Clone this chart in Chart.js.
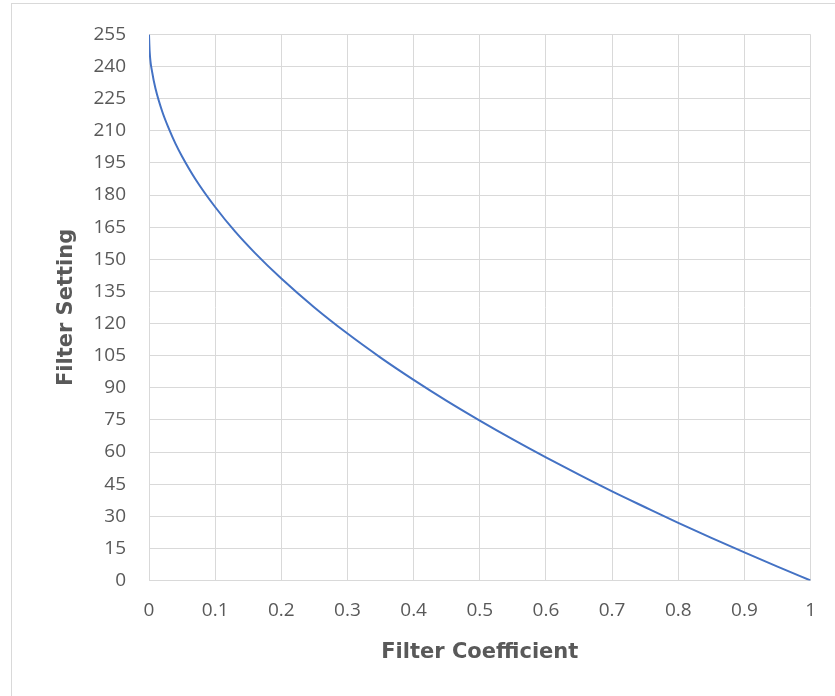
<!DOCTYPE html>
<html>
<head>
<meta charset="utf-8">
<script src="https://cdn.jsdelivr.net/npm/chart.js@4.4.1/dist/chart.umd.min.js"></script>
<style>
  html, body { margin: 0; padding: 0; background: #ffffff; overflow: hidden; }
  #wrap { position: relative; width: 835px; height: 696px; }
  #frame { position: absolute; left: 11px; top: 3px; width: 840px; height: 710px; border: 1px solid #d9d9d9; box-sizing: border-box; pointer-events: none; }
  canvas { position: absolute; left: 0; top: 0; }
</style>
</head>
<body>
<div id="wrap">
  <canvas id="c" width="835" height="696"></canvas>
  <div id="frame"></div>
</div>
<script>
// Values
const coefficient = [0, 0.001, 0.005, 0.01, 0.02, 0.03, 0.04, 0.05, 0.07, 0.1, 0.13, 0.16, 0.2, 0.25, 0.3, 0.35, 0.4, 0.45, 0.5, 0.55, 0.6, 0.65, 0.7, 0.75, 0.8, 0.85, 0.9, 0.95, 1];
const setting = [255, 247, 237, 229.5, 219, 211, 204, 198, 187.5, 174.4, 163, 153, 141, 127.5, 115.3, 104.1, 93.7, 83.9, 74.7, 65.9, 57.5, 49.4, 41.6, 34.2, 26.9, 19.9, 13.1, 6.5, 0];
const xTickLabels = ['0', '0.1', '0.2', '0.3', '0.4', '0.5', '0.6', '0.7', '0.8', '0.9', '1'];
const yStep = 15;
const yMax = 255;
const xTitle = 'Filter Coefficient';
const yTitle = 'Filter Setting';

const points = coefficient.map((x, i) => ({ x: x, y: setting[i] }));
const tickFont = '"Open Sans", "Noto Sans", sans-serif';
const titleFont = '"DejaVu Sans", "Open Sans", sans-serif';
const textColor = '#595959';
const gridColor = '#d9d9d9';

new Chart(document.getElementById('c'), {
  type: 'scatter',
  data: {
    datasets: [{
      data: points,
      showLine: true,
      borderColor: '#4472c4',
      borderWidth: 2,
      pointRadius: 0,
      pointHoverRadius: 0,
      cubicInterpolationMode: 'monotone',
      fill: false
    }]
  },
  options: {
    responsive: false,
    animation: false,
    devicePixelRatio: 1,
    events: [],
    layout: { padding: { left: 0, right: 23, top: 32, bottom: 0 } },
    plugins: { legend: { display: false }, tooltip: { enabled: false } },
    scales: {
      x: {
        type: 'linear',
        min: 0,
        max: 1,
        afterFit: (s) => { s.height = 696 - 580.5; },
        afterBuildTicks: (s) => { s.ticks = xTickLabels.map(v => ({ value: parseFloat(v) })); },
        ticks: {
          color: textColor,
          font: { family: tickFont, size: 19 },
          padding: 19,
          maxRotation: 0,
          autoSkip: false,
          callback: (v, i) => xTickLabels[i]
        },
        grid: { color: gridColor, lineWidth: 1, drawTicks: false },
        border: { display: false },
        title: {
          display: true,
          text: xTitle,
          color: textColor,
          font: { family: titleFont, size: 21, weight: 'bold' },
          padding: { top: 0, bottom: 31 }
        }
      },
      y: {
        type: 'linear',
        min: 0,
        max: yMax,
        afterFit: (s) => { s.width = 149; },
        ticks: {
          stepSize: yStep,
          color: textColor,
          font: { family: tickFont, size: 19 },
          padding: 23,
          autoSkip: false
        },
        grid: { color: gridColor, lineWidth: 1, drawTicks: false },
        border: { display: false },
        title: {
          display: true,
          text: yTitle,
          color: textColor,
          font: { family: titleFont, size: 21, weight: 'bold' },
          padding: { top: 54, bottom: 0 }
        }
      }
    }
  }
});
</script>
</body>
</html>
